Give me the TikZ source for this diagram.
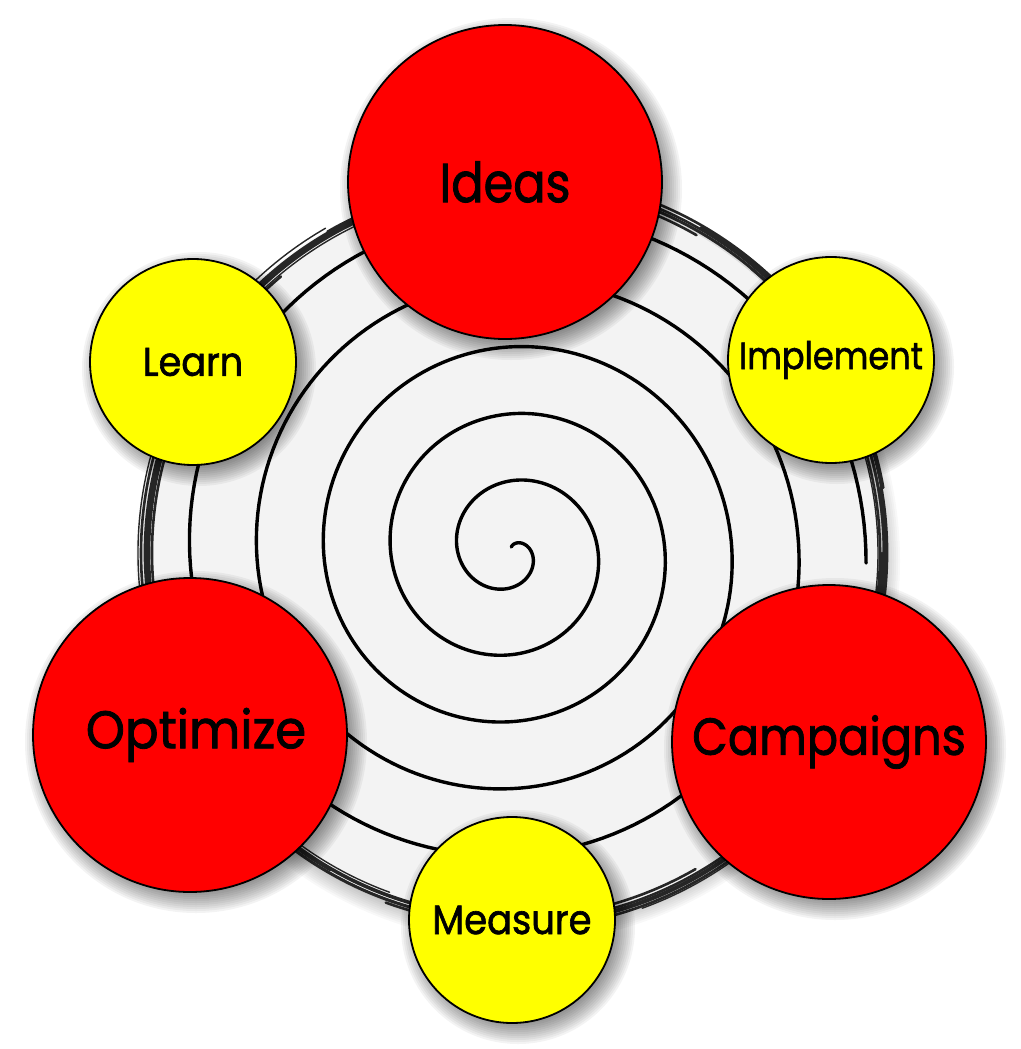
\documentclass[tikz,border=0pt]{standalone}
\usepackage{fontspec}
\newfontfamily\lblfont{Poppins}[FakeBold=1.6]
\definecolor{cred}{RGB}{255,0,0}
\definecolor{cyellow}{RGB}{255,255,0}
\definecolor{diskgray}{RGB}{243,243,243}
\definecolor{inkgray}{RGB}{38,38,38}
\tikzset{
  bigc/.style={circle, draw=black, line width=1.8pt, fill=cred, minimum size=314pt, inner sep=0pt},
  smallc/.style={circle, draw=black, line width=1.8pt, fill=cyellow, minimum size=206pt, inner sep=0pt},
  spiralline/.style={line width=3.4pt, black, line cap=round},
  sketch/.style={line width=2.6pt, inkgray, line cap=round},
  sketchthin/.style={line width=1.4pt, inkgray, line cap=round}
}
\newcommand{\softshadow}[3]{%
  \foreach \i in {0,...,11}{%
    \fill[black, opacity=0.048] (#1+6,#2+7) circle[radius={#3-8+\i*2}];
  }%
}
\newcommand{\lbl}[3]{{\lblfont\fontsize{#1}{#1}\selectfont\scalebox{#2}[1]{#3}}}
\begin{document}
\begin{tikzpicture}[x=1pt,y=-1pt]
\useasboundingbox (0,0) rectangle (1020,1049);
% disk shadow and disk
\foreach \i in {0,...,11}{\fill[black, opacity=0.028] (518,561) circle[radius={360+\i*2}];}
\fill[diskgray] (513,553) circle[radius=368];
% spiral
\draw[spiralline] plot[domain=-1.5:31.46, samples=900, variable=\t] ({511+(20+10.66*\t)*cos(\t r)}, {551+(20+10.66*\t)*sin(\t r)});
% sketchy ring
\coordinate (rc) at (513,553);
\foreach \a/\b/\r in {0/130/369, 120/250/366, 240/370/371, -10/110/372, 100/200/364, 190/300/367, 280/400/374, 30/95/376, 160/230/361, 250/330/378, 60/170/365, 200/285/370, 300/350/376, -40/40/367, 140/215/372, 20/75/373, 170/260/368, 310/390/371}{
  \draw[sketch] (rc) ++(\a:\r) arc[start angle=\a, end angle=\b, radius=\r];
}
\foreach \a/\b/\r in {10/80/371, 85/150/368, 170/240/375, 260/320/372, 330/380/365, 110/135/361, 215/260/363, 45/70/378, 135/175/366}{
  \draw[sketchthin] (rc) ++(\a:\r) arc[start angle=\a, end angle=\b, radius=\r];
}
% shadows of circles
\softshadow{505}{182}{157}
\softshadow{831}{360}{103}
\softshadow{829}{742}{157}
\softshadow{512}{920}{103}
\softshadow{190}{735}{157}
\softshadow{193}{362}{103}
% circles
\node[bigc] (ideas) at (505,182) {\lbl{55}{0.87}{Ideas}};
\node[smallc] (implement) at (831,360) {\lbl{38}{0.885}{Implement}};
\node[bigc] (campaigns) at (829,742) {\lbl{52}{0.89}{Campaigns}};
\node[smallc] (measure) at (512,920) {\raisebox{-4pt}{\lbl{41}{0.9}{Measure}}};
\node[bigc] (optimize) at (190,735) {\hspace*{12pt}\lbl{53}{0.94}{Optimize}};
\node[smallc] (learn) at (193,362) {\lbl{40}{0.915}{Learn}};
\end{tikzpicture}
\end{document}
